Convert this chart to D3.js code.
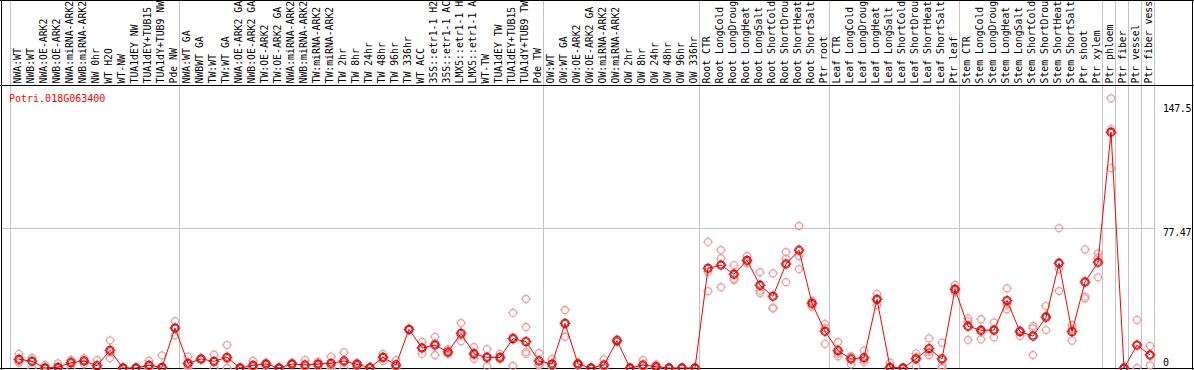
<!DOCTYPE html>
<html>
<head>
<meta charset="utf-8">
<script src="https://cdn.jsdelivr.net/npm/d3@7"></script>
<style>
  body { margin: 0; background: #fff; }
  svg { display: block; }
</style>
</head>
<body>
<div id="chart"></div>
<script>
// Basic dimensions
const width = 1194;
const height = 370;
const plotLeft = 10;
const plotBottom = 368;
const headerBottom = 85;

const geneId = "Potri.018G063400";

// sample labels, one per column (as far as they show in the header)
const samples = [
  "NWA:WT", "NWB:WT", "NWA:OE-ARK2", "NWB:OE-ARK2", "NWA:miRNA-ARK2", "NWB:miRNA-ARK2",
  "NW 0hr", "WT H2O", "WT-NW", "TUA1dEY NW", "TUA1dEY+TUB15", "TUA1dY+TUB9 NW", "Pde NW",
  "NWA:WT GA", "NWBWT GA", "TW:WT", "TW:WT GA", "NWA:OE-ARK2 GA", "NWB:OE-ARK2 GA",
  "TW:OE-ARK2", "TW:OE-ARK2 GA", "NWA:miRNA-ARK2", "NWB:miRNA-ARK2", "TW:miRNA-ARK2",
  "TW:miRNA-ARK2", "TW 2hr", "TW 8hr", "TW 24hr", "TW 48hr", "TW 96hr", "TW 336hr", "WT ACC",
  "35S::etr1-1 H2", "35S::etr1-1 AC", "LMX5::etr1-1 H", "LMX5::etr1-1 A", "WT-TW",
  "TUA1dEY TW", "TUA1dEY+TUB15", "TUA1dY+TUB9 TW", "Pde TW",
  "OW:WT", "OW:WT GA", "OW:OE-ARK2", "OW:OE-ARK2 GA", "OW:miRNA-ARK2", "OW:miRNA-ARK2",
  "OW 2hr", "OW 8hr", "OW 24hr", "OW 48hr", "OW 96hr", "OW 336hr",
  "Root CTR", "Root LongCold", "Root LongDroug", "Root LongHeat", "Root LongSalt",
  "Root ShortCold", "Root ShortDrou", "Root ShortHeat", "Root ShortSalt", "Ptr root",
  "Leaf CTR", "Leaf LongCold", "Leaf LongDroug", "Leaf LongHeat", "Leaf LongSalt",
  "Leaf ShortCold", "Leaf ShortDrou", "Leaf ShortHeat", "Leaf ShortSalt", "Ptr leaf",
  "Stem CTR", "Stem LongCold", "Stem LongDroug", "Stem LongHeat", "Stem LongSalt",
  "Stem ShortCold", "Stem ShortDrou", "Stem ShortHeat", "Stem ShortSalt", "Ptr shoot", "Ptr xylem",
  "Ptr phloem", "Ptr fiber", "Ptr vessel", "Ptr fiber vess"
];

// mean expression per sample
const means = [
  4.8, 3.7, 0, 0.4, 2.9, 3.9, 1.3, 9.8, 0, 0, 1.5, 0.4, 22.1,
  2.6, 5.0, 3.7, 5.9, 0, 1.5, 2.2, 0, 2.2, 1.7, 2.2, 2.6, 3.9, 2.0, 0.2, 5.9, 1.7,
  21.4, 11.1, 12.7, 8.9, 19.2, 7.9, 5.9, 5.9, 16.2, 14.6, 3.9,
  2.2, 24.7, 2.2, 0, 1.7, 15.1, 0, 1.7, 0.7, 0, 0, 0,
  55.2, 57.0, 51.9, 59.6, 45.8, 39.7, 57.6, 65.2, 35.8, 20.3,
  9.6, 5.0, 5.7, 38.0, 0.4, 0, 5.1, 10.7, 5.0, 43.6,
  23.1, 20.9, 21.0, 37.3, 20.1, 17.7, 28.1, 58.0, 20.1, 47.6, 58.5,
  130.5, 0, 12.7, 7.2
];

// individual replicates per sample
const replicates = [
  [7.8, 2.9, 3.7], [5.5, 5.6, 0], [1.7, 0, 0], [2.6, 0, 0], [4.4, 4.3, 0], [5.5, 2.2, 4.0],
  [4.4, 0, 0], [15.3, 5.5, 8.6], [0, 0, 0], [0, 0, 0], [4.0, 0, 0.5], [7.0, 0, 0], [25.9, 18.1, 22.3],
  [6.3, 1.5, 0], [5.5, 4.6], [7.4, 3.7, 0], [12.7, 5.0, 0], [0, 0], [4.0, 0.5, 0], [3.0, 2.2, 1.4],
  [0, 0], [3.0, 2.0], [4.4, 0.7, 0], [3.5, 2.2, 0.9], [6.3, 1.5, 0], [8.7, 3.0, 0], [3.0, 2.0, 1.0],
  [0.5, 0], [7.8, 6.0, 3.9], [4.4, 0.7, 0], [21.4, 21.0], [14.4, 7.8, 11.1], [17.2, 7.2, 13.7],
  [10.5, 7.9, 8.3], [24.9, 14.8, 17.9], [11.6, 5.1, 7.0], [10.4, 1.1, 6.2], [7.8, 5.0, 4.9],
  [30.5, 1.1, 17.0], [38.2, 22.7, 8.9, 7.8], [8.3, 1.5, 1.9],
  [5.0, 1.0, 0.6], [32.1, 17.3, 24.7], [3.0, 2.2, 1.4], [0, 0], [4.8, 0.3, 0], [16.0, 14.5],
  [0, 0], [4.4, 0.7, 0], [2.0, 0, 0], [0, 0], [0, 0], [0, 0],
  [69.8, 53.3, 42.6], [65.3, 60.7, 44.7], [56.9, 49.4, 48.7], [62.0, 58.0, 59.0], [53.0, 42.8, 41.5],
  [52.4, 33.4, 33.0], [64.2, 60.5, 47.5], [78.6, 54.7, 62.0], [37.0, 35.0, 33.9], [24.4, 13.3, 22.0],
  [14.4, 6.5, 8.0], [6.0, 6.5, 2.0], [9.6, 3.1, 4.5], [41.0, 34.7, 38.0], [3.0, 0, 0], [0, 0],
  [8.1, 6.0, 1.0], [16.4, 7.2, 9.0], [14.0, 1.3, 0], [46.0, 42.0, 43.0],
  [27.5, 15.5, 26.0], [27.0, 15.9, 20.0], [25.3, 17.0, 21.0], [44.1, 32.5, 35.0], [21.0, 20.3, 17.7],
  [23.3, 7.2, 22.0], [34.3, 21.0, 29.0], [77.4, 54.8, 42.6], [23.8, 15.1, 21.5], [65.7, 39.5, 38.5],
  [63.5, 61.0, 50.2],
  [149.3, 132.2, 110.6], [0, 0], [26.6, 0], [12.2, 1.5]
];

// column indices where a new group of samples starts
const groupBreaks = [0, 13, 41, 53, 63, 73, 84, 85, 86, 87, 88];

// right axis labels
const tickValues = [147.5, 77.47, 0];
const tickLabels = ["147.5", "77.47", "0"];
const gridValues = [77.47];

const svg = d3.select("#chart")
  .append("svg")
  .attr("width", width)
  .attr("height", height)
  .style("font-family", "'DejaVu Sans Mono', monospace");

// Scales
const x = d3.scaleBand()
  .domain(d3.range(samples.length))
  .range([plotLeft, plotLeft + samples.length * 13]);

const y = d3.scaleLinear()
  .domain([0, 155])
  .range([plotBottom, 88]);

const colStart = i => plotLeft + i * x.step();
const px = i => x(i) + 9;

// group separators (full height)
svg.append("g")
  .selectAll("line")
  .data(groupBreaks)
  .enter()
  .append("line")
  .attr("x1", d => colStart(d) + 0.5)
  .attr("x2", d => colStart(d) + 0.5)
  .attr("y1", 0)
  .attr("y2", plotBottom)
  .attr("stroke", "#c4c4c4")
  .attr("stroke-width", 1);

// horizontal grid
svg.append("g")
  .selectAll("line")
  .data(gridValues)
  .enter()
  .append("line")
  .attr("x1", 1)
  .attr("x2", colStart(samples.length) + 1)
  .attr("y1", d => Math.round(y(d)) + 0.5)
  .attr("y2", d => Math.round(y(d)) + 0.5)
  .attr("stroke", "#c4c4c4")
  .attr("stroke-width", 1);

// sample labels, rotated
svg.append("g")
  .selectAll("text")
  .data(samples)
  .enter()
  .append("text")
  .attr("transform", (d, i) => `translate(${x(i) + 11},${headerBottom - 1.5}) rotate(-90)`)
  .attr("font-size", "9.8px")
  .attr("fill", "#000")
  .text(d => d);

// frame
const frame = svg.append("g").attr("stroke", "#000").attr("stroke-width", 1);
frame.append("line").attr("x1", 0).attr("x2", width).attr("y1", 0.5).attr("y2", 0.5);
frame.append("line").attr("x1", 0).attr("x2", width).attr("y1", headerBottom + 0.5).attr("y2", headerBottom + 0.5);
frame.append("line").attr("x1", 0).attr("x2", width).attr("y1", plotBottom + 0.5).attr("y2", plotBottom + 0.5);
frame.append("line").attr("x1", 1.5).attr("x2", 1.5).attr("y1", 0).attr("y2", height);
frame.append("line").attr("x1", width - 1.5).attr("x2", width - 1.5).attr("y1", 0).attr("y2", height);

// gene title
svg.append("text")
  .attr("x", 9)
  .attr("y", 102)
  .attr("font-size", "10px")
  .attr("fill", "#ff0000")
  .text(geneId);

// right axis labels
const tickDy = [10, 8, -2];
svg.append("g")
  .selectAll("text")
  .data(tickValues)
  .enter()
  .append("text")
  .attr("x", 1163)
  .attr("y", (d, i) => y(d) + tickDy[i])
  .attr("font-size", "10px")
  .attr("letter-spacing", "-0.4px")
  .attr("fill", "#000")
  .text((d, i) => tickLabels[i]);

// little ticked circle like the original marker
function marker(g, cx, cy, color, r) {
  g.append("circle")
    .attr("cx", cx).attr("cy", cy).attr("r", r)
    .attr("fill", "none").attr("stroke", color).attr("stroke-width", 1.3);
  [[0, -1], [0, 1], [-1, 0], [1, 0]].forEach(([dx, dy]) => {
    g.append("line")
      .attr("x1", cx + dx * r).attr("y1", cy + dy * r)
      .attr("x2", cx + dx * (r + 1.5)).attr("y2", cy + dy * (r + 1.5))
      .attr("stroke", color).attr("stroke-width", 1);
  });
}

// replicates
const repData = [];
replicates.forEach((vals, i) => vals.forEach(v => repData.push({ i, v })));
const repG = svg.append("g");
repData.forEach(d => marker(repG, px(d.i), y(d.v), "#f0a0a0", 3.5));

// mean line
const line = d3.line()
  .x((d, i) => px(i))
  .y(d => y(d));

svg.append("path")
  .datum(means)
  .attr("fill", "none")
  .attr("stroke", "#ff0000")
  .attr("stroke-width", 1)
  .attr("d", line);

// mean markers
const meanG = svg.append("g");
means.forEach((v, i) => {
  marker(meanG, px(i), y(v), "#ff0000", 4);
  meanG.append("circle")
    .attr("cx", px(i)).attr("cy", y(v)).attr("r", 3)
    .attr("fill", "none").attr("stroke", "#800000").attr("stroke-width", 0.7);
});
</script>
</body>
</html>
